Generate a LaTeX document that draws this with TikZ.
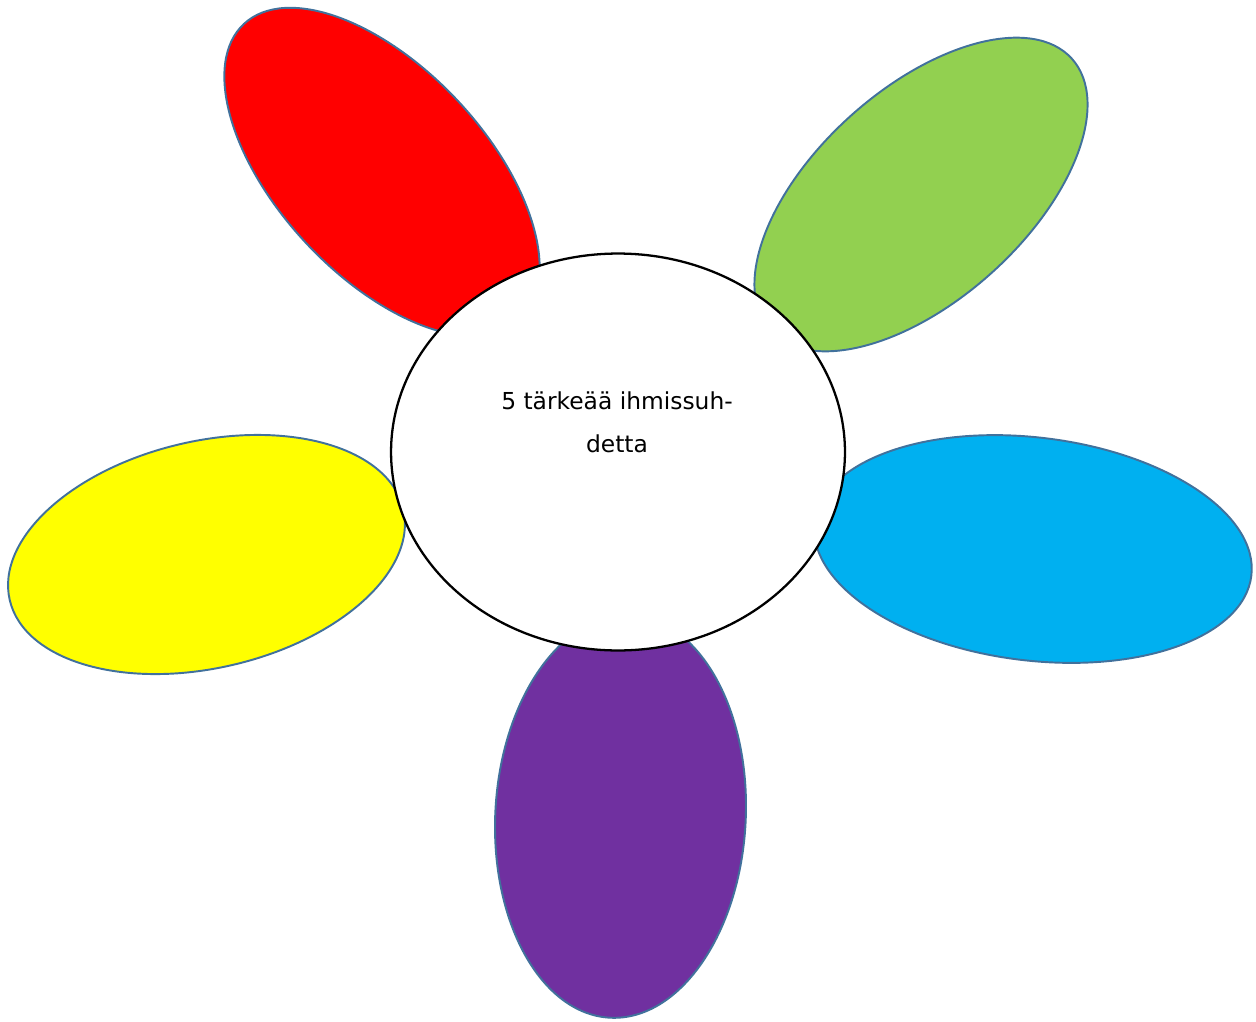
\documentclass[tikz,border=0pt]{standalone}
\usepackage{fontspec}
\setmainfont{DejaVu Sans}
\usepackage{tikz}
\usetikzlibrary{shapes.geometric,positioning}
\definecolor{petalline}{HTML}{41719C}
\definecolor{petalred}{HTML}{FF0000}
\definecolor{petalgreen}{HTML}{92D050}
\definecolor{petalyellow}{HTML}{FFFF00}
\definecolor{petalblue}{HTML}{00B0F0}
\definecolor{petalpurple}{HTML}{7030A0}
\tikzstyle{petal}  = [ellipse, draw=petalline, line width=1.1pt, inner sep=0pt]
\tikzstyle{centre} = [ellipse, draw=black, line width=1.3pt, fill=white, inner sep=0pt,
                      minimum width=9.08cm, minimum height=7.94cm]
\tikzstyle{title}  = [align=center, font=\fontsize{13.3}{24.5}\selectfont]

\begin{document}
\begin{tikzpicture}[x=0.02cm,y=-0.02cm]
        \useasboundingbox (0,0) rectangle (1256,1021);

        \node[petal, fill=petalred, minimum width=8.1cm, minimum height=4.16cm, rotate=-47] (red) at (382,172) {};
        \node[petal, fill=petalgreen, minimum width=8.12cm, minimum height=4.22cm, rotate=42] (green) at (921,194.5) {};
        \node[petal, fill=petalyellow, minimum width=8.08cm, minimum height=4.54cm, rotate=13] (yellow) at (206.5,554.5) {};
        \node[petal, fill=petalblue, minimum width=8.8cm, minimum height=4.46cm, rotate=-7] (blue) at (1033,549) {};
        \node[petal, fill=petalpurple, minimum width=5.01cm, minimum height=8.06cm, rotate=-3] (purple) at (620.5,816.5) {};

        \node[centre] (heart) at (618,452) {};
        \node[title] (name) at (617,422) {5 tärkeää ihmissuh-\\detta};
\end{tikzpicture}
\end{document}
